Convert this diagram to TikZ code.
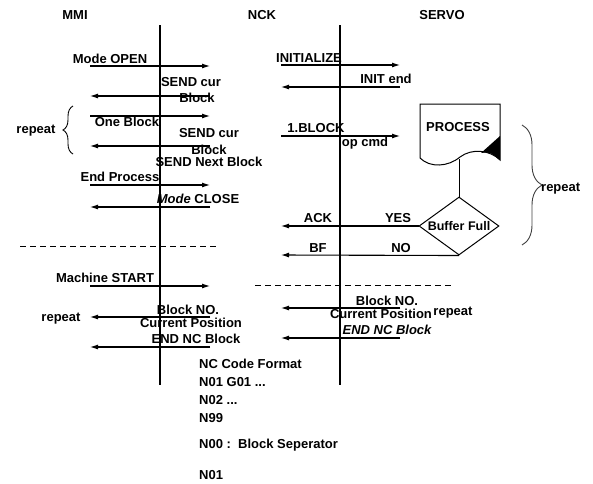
\documentclass[tikz,border=0pt]{standalone}
\usepackage{fontspec}
\setmainfont{Liberation Sans}
\usetikzlibrary{arrows.meta, positioning, decorations.pathreplacing, shapes.geometric}

\tikzset{
  msg/.style={line width=1.1pt, -{Latex[length=8pt,width=5pt]}},
  lbl/.style={font=\bfseries\fontsize{13}{15}\selectfont, inner sep=0pt, anchor=base},
  life/.style={line width=1.1pt},
  sepline/.style={line width=0.9pt, dash pattern=on 6pt off 4pt},
  decision/.style={diamond, draw, line width=1pt, aspect=1.38, minimum width=80pt,
    minimum height=58pt, inner sep=0pt, font=\bfseries\fontsize{12.5}{14}\selectfont},
  loopbrace/.style={decorate, decoration={brace, amplitude=#1}, line width=0.9pt},
}

\begin{document}
\begin{tikzpicture}[x=1pt, y=-1pt]
  \useasboundingbox (0,0) rectangle (593,483);
  % heads and life lines
  \node[lbl] (mmi) at (75,19.5) {MMI};
  \node[lbl] (nck) at (262,19.5) {NCK};
  \node[lbl] (servo) at (442,19.5) {SERVO};
  \draw[life] (160,25) -- (160,385);
  \draw[life] (340,25) -- (340,385);

  % end points of the messages
  \foreach \r/\y in {a/66, b/96, c/116, d/146, e/185, f/207, g/286, h/317, i/347} {
    \coordinate (mmiA-\r) at (90,\y);
    \coordinate (mmiB-\r) at (210,\y);
  }
  \foreach \r/\y in {a/65, b/87, c/136, h/308, i/338} {
    \coordinate (nckA-\r) at (281,\y);
    \coordinate (nckB-\r) at (400,\y);
  }

  % MMI <-> NCK
  \draw[msg] (mmiA-a) -- (mmiB-a);
  \draw[msg] (mmiB-b) -- (mmiA-b);
  \draw[msg] (mmiA-c) -- (mmiB-c);
  \draw[msg] (mmiB-d) -- (mmiA-d);
  \draw[msg] (mmiA-e) -- (mmiB-e);
  \draw[msg] (mmiB-f) -- (mmiA-f);
  \node[lbl] (open) at (110,63.5) {Mode OPEN};
  \node[lbl] (send1) at (191,86.5) {SEND cur};
  \node[lbl] (blk1) at (197,102.5) {Block};
  \node[lbl] (one) at (127,126.5) {One Block};
  \node[lbl] (send2) at (209,137.5) {SEND cur};
  \node[lbl] (blk2) at (209,154.5) {Block};
  \node[lbl] (next) at (209,166.5) {SEND Next Block};
  \node[lbl] (endp) at (120,181.5) {End Process};
  \node[lbl] (close) at (198,203.5) {\itshape Mode\upshape{} CLOSE};
  \draw[loopbrace=10pt] (73,154) -- (73,106);
  \node[lbl] (rep1) at (36,133) {repeat};

  % NCK <-> SERVO
  \draw[msg] (nckA-a) -- (nckB-a);
  \draw[msg] (nckB-b) -- (nckA-b);
  \draw[msg] (nckA-c) -- (nckB-c);
  \node[lbl] (init) at (309,62.5) {INITIALIZE};
  \node[lbl] (initend) at (386,83.5) {INIT end};
  \node[lbl] (first) at (316,132.5) {1.BLOCK};
  \node[lbl] (opcmd) at (365,146) {op cmd};

  % process and buffer check
  \draw[line width=1pt] (420,104) -- (500,104) -- (500,160)
    .. controls (490,150) and (472,148) .. (460,157)
    .. controls (448,167) and (430,168) .. (420,158) -- cycle;
  \fill (500,136) -- (481,153) .. controls (490,152) .. (500,160) -- cycle;
  \node[lbl] (proc) at (458,131.5) {PROCESS};
  \coordinate (procBot) at (459,159);
  \node[decision] (buf) at (459,226) {Buffer Full};
  \draw[line width=1pt] (procBot) -- (buf.north);
  \coordinate (ackEnd) at (281,226);
  \coordinate (bfEnd) at (281,255);
  \draw[msg] (buf.west) -- (ackEnd);
  \draw[msg] (buf.south) -- (bfEnd);
  \node[lbl] (ack) at (318,222.5) {ACK};
  \node[lbl] (yes) at (398,222.5) {YES};
  \node[lbl] (bf) at (318,252.5) {BF};
  \node[lbl] (no) at (401,252.5) {NO};
  \draw[loopbrace=20pt, black!75] (522,125) -- (522,245);
  \node[lbl, anchor=base west] (rep2) at (541,191) {repeat};

  % separators
  \draw[sepline] (20,246) -- (218,246);
  \draw[sepline] (255,285) -- (453,285);

  % machine run
  \draw[msg] (mmiA-g) -- (mmiB-g);
  \draw[msg] (mmiB-h) -- (mmiA-h);
  \draw[msg] (mmiB-i) -- (mmiA-i);
  \node[lbl] (start) at (105,282.5) {Machine START};
  \node[lbl] (blkno1) at (188,314.5) {Block NO.};
  \node[lbl] (pos1) at (191,327.5) {Current Position};
  \node[lbl] (rep3) at (61,321) {repeat};
  \node[lbl] (endnc1) at (196,343.5) {END NC Block};
  \draw[msg] (nckB-h) -- (nckA-h);
  \draw[msg] (nckB-i) -- (nckA-i);
  \node[lbl] (blkno2) at (387,305.5) {Block NO.};
  \node[lbl] (pos2) at (381,318.5) {Current Position};
  \node[lbl] (rep4) at (453,315) {repeat};
  \node[lbl] (endnc2) at (387,334.5) {\itshape END NC Block};

  % code format
  \node[lbl, anchor=base west] (fmt) at (199,368.5) {NC Code Format};
  \node[lbl, anchor=base west] (n01) at (199,386.5) {N01 G01 ...};
  \node[lbl, anchor=base west] (n02) at (199,404.5) {N02 ...};
  \node[lbl, anchor=base west] (n99) at (199,422.5) {N99};
  \node[lbl, anchor=base west] (n00) at (199,448) {N00 :\ \ Block Seperator};
  \node[lbl, anchor=base west] (n01b) at (199,479) {N01};
\end{tikzpicture}
\end{document}
